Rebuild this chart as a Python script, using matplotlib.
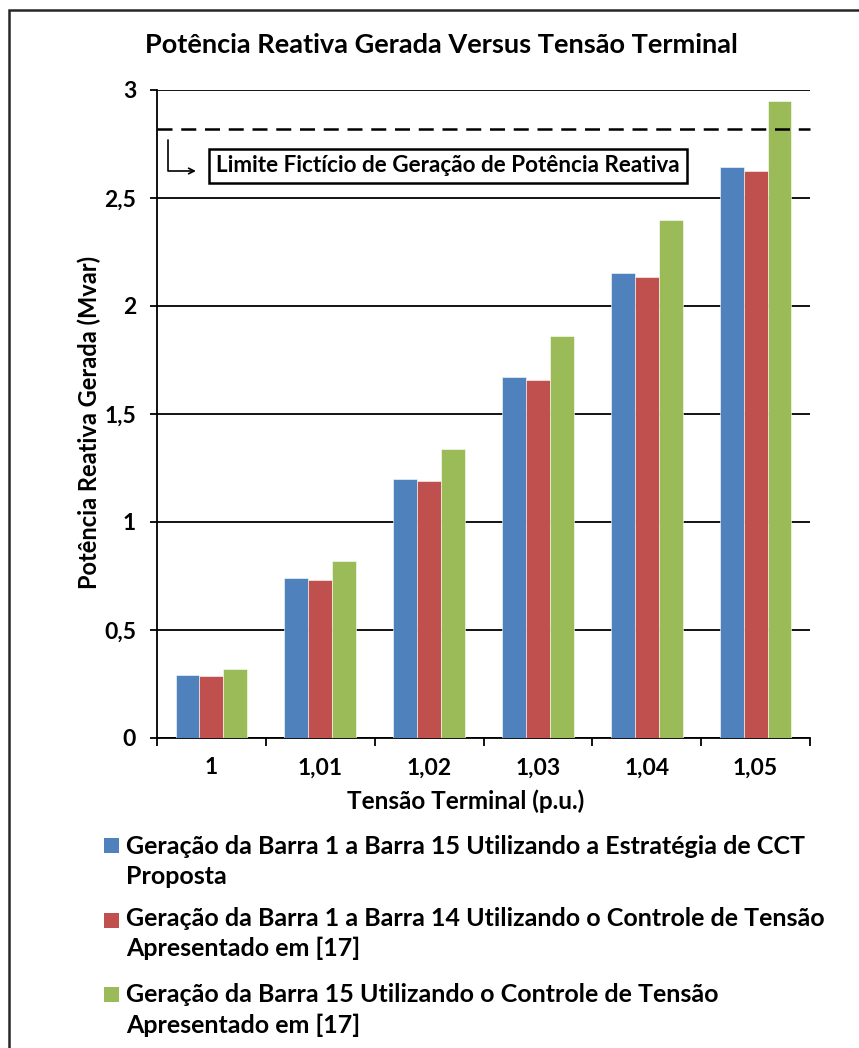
import matplotlib
matplotlib.use('Agg')
import matplotlib.pyplot as plt
from matplotlib.patches import Rectangle
import numpy as np

plt.rcParams['font.family'] = ['Lato', 'DejaVu Sans']
plt.rcParams['font.weight'] = 'bold'
plt.rcParams['axes.labelweight'] = 'bold'

# Tensão terminal (p.u.) categories
categories = ['1', '1,01', '1,02', '1,03', '1,04', '1,05']

# Potência reativa gerada (Mvar)
barra_1_15_cct = [0.292, 0.741, 1.199, 1.670, 2.153, 2.645]
barra_1_14_ref = [0.287, 0.731, 1.190, 1.657, 2.134, 2.625]
barra_15_ref = [0.319, 0.819, 1.338, 1.861, 2.398, 2.949]

limite_ficticio = 2.818

series_labels = [
    ['Geração da Barra 1 a Barra 15 Utilizando a Estratégia de CCT', 'Proposta'],
    ['Geração da Barra 1 a Barra 14 Utilizando o Controle de Tensão', 'Apresentado em [17]'],
    ['Geração da Barra 15 Utilizando o Controle de Tensão', 'Apresentado em [17]'],
]
colors = ['#4F81BD', '#C0504D', '#9BBB59']

yticks = [0, 0.5, 1, 1.5, 2, 2.5, 3]
ytick_labels = ['0', '0,5', '1', '1,5', '2', '2,5', '3']

W, H = 859, 1048


def fx(px):
    return px / W


def fy(py):
    return 1 - py / H


def main():
    fig = plt.figure(figsize=(W / 100, H / 100), dpi=100)
    ax = fig.add_axes([fx(157), fy(738), 653 / W, 648 / H])

    x = np.arange(len(categories))
    w = 0.22
    for i, (vals, c) in enumerate(zip([barra_1_15_cct, barra_1_14_ref, barra_15_ref], colors)):
        ax.bar(x + (i - 1) * w, vals, width=w, color=c, edgecolor='white',
               linewidth=0.4, zorder=3)

    ax.set_xlim(-0.5, len(categories) - 0.5)
    ax.set_ylim(0, 3)

    ax.set_yticks(yticks)
    ax.set_yticklabels(ytick_labels, fontsize=16.5)
    ax.yaxis.grid(True, color='black', linewidth=1.3, zorder=1)
    ax.set_axisbelow(True)
    ax.tick_params(axis='y', direction='out', length=5, width=1.3, pad=10)

    # ticks at group boundaries, labels at group centres
    ax.set_xticks(np.arange(-0.5, len(categories), 1.0))
    ax.set_xticklabels([])
    ax.set_xticks(x, minor=True)
    ax.set_xticklabels(categories, minor=True, fontsize=16.5)
    ax.tick_params(axis='x', which='major', direction='out', length=6, width=1.3)
    ax.tick_params(axis='x', which='minor', length=0, pad=14)

    for s in ['top', 'right']:
        ax.spines[s].set_visible(False)
    for s in ['left', 'bottom']:
        ax.spines[s].set_linewidth(1.3)

    ax.set_xlabel('Tensão Terminal (p.u.)', fontsize=17.5, fontweight='bold')
    ax.set_ylabel('Potência Reativa Gerada (Mvar)', fontsize=17, fontweight='bold')
    ax.xaxis.set_label_coords((466 - 157) / 653, -(789 - 738) / 648)
    ax.yaxis.set_label_coords(-(157 - 101) / 653, (738 - 422) / 648)
    fig.text(fx(441), fy(45), 'Potência Reativa Gerada Versus Tensão Terminal',
             ha='center', va='center', fontsize=19.5, fontweight='bold')

    # limite ficticio
    ax.axhline(limite_ficticio, color='black', linewidth=1.8, dashes=(6, 3.5),
               clip_on=False, zorder=4)
    fig.text(fx(448), fy(166), 'Limite Fictício de Geração de Potência Reativa',
             ha='center', va='center', fontsize=16.2, fontweight='bold',
             bbox=dict(boxstyle='square,pad=0.3', facecolor='white',
                       edgecolor='black', linewidth=1.8), zorder=5)
    ax.annotate('', xy=(fx(196), fy(171)), xycoords='figure fraction',
                xytext=(fx(168), fy(140)), textcoords='figure fraction',
                arrowprops=dict(arrowstyle='->', color='black', lw=1.2,
                                connectionstyle='angle,angleA=90,angleB=0,rad=0',
                                shrinkA=0, shrinkB=0))

    # legend (handle aligned with the first line of each label)
    leg_rows = [(845, 847, 877), (920, 918, 948), (994, 995, 1025)]
    for (sq_y, y1, y2), lines, c in zip(leg_rows, series_labels, colors):
        fig.patches.append(Rectangle((fx(104), fy(sq_y + 7.5)), 15 / W, 15 / H,
                                     transform=fig.transFigure, facecolor=c,
                                     edgecolor='none'))
        fig.text(fx(126), fy(y1), lines[0], ha='left', va='center', fontsize=18,
                 fontweight='bold')
        fig.text(fx(126), fy(y2), lines[1], ha='left', va='center', fontsize=18,
                 fontweight='bold')

    # border around the chart
    fig.patches.append(Rectangle((fx(9), -0.05), 1.0, fy(10) + 0.05,
                                 transform=fig.transFigure, fill=False,
                                 edgecolor='#262626', linewidth=1.8))

    fig.savefig('out.png', dpi=100)


if __name__ == '__main__':
    main()
